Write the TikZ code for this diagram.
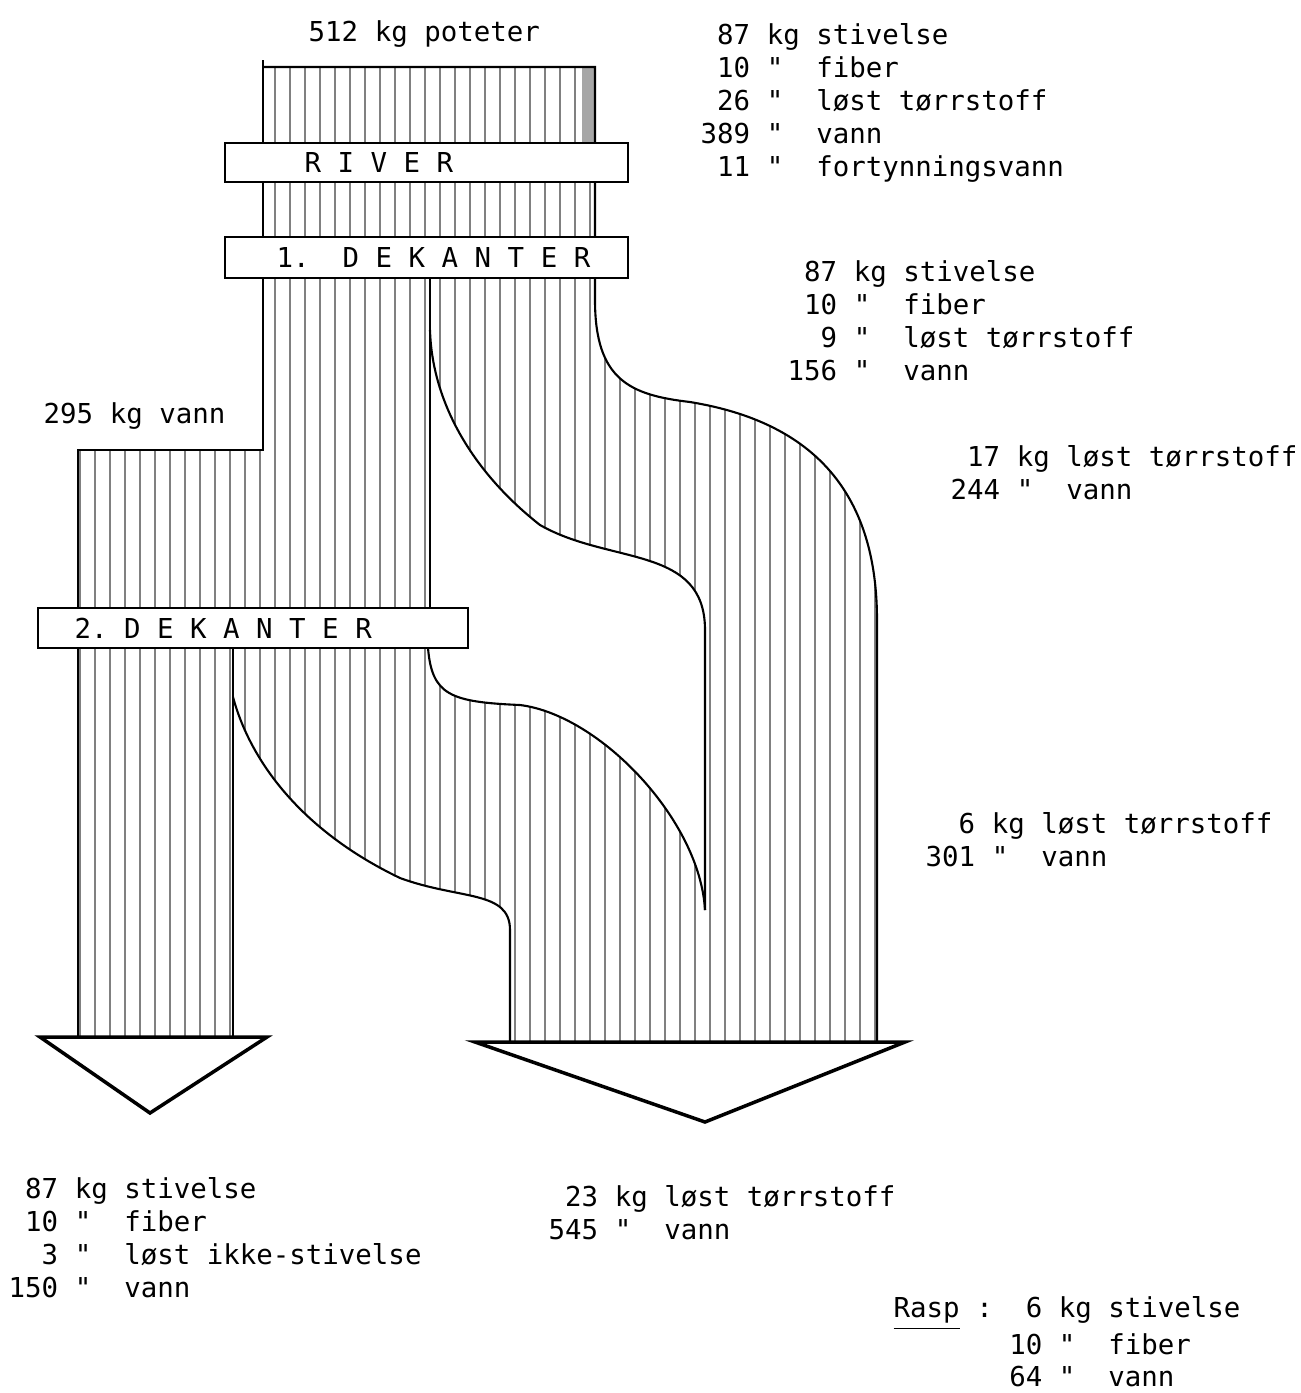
\documentclass[tikz,border=0pt]{standalone}
\usepackage{fontspec}
\setmainfont{DejaVu Sans Mono}[Ligatures=TeXOff]
\usetikzlibrary{positioning}

\newcommand{\hatchfill}{\foreach \x in {50,65,...,905} \draw[hatch] (\x,40) -- (\x,1060);}

\begin{document}
\begin{tikzpicture}[
  x=0.01cm, y=-0.01cm,
  box/.style={draw, fill=white, line width=0.6pt, minimum height=0.4cm, inner sep=0pt},
  boxtxt/.style={inner sep=0pt, font=\fontsize{7.8}{9.4}\selectfont},
  lbl/.style={inner sep=0pt, align=left, anchor=north west, font=\fontsize{7.8}{9.4}\selectfont},
  rim/.style={line width=0.6pt},
  hatch/.style={line width=0.35pt, black!50},
  arrowhd/.style={line width=1pt, line join=miter}
]
\useasboundingbox (0,0) rectangle (1301,1393);

\begin{scope}
  \clip (263,67) rectangle (595,290);
  \hatchfill
\end{scope}
\begin{scope}
  \clip (263,278) -- (430,278) -- (430,648) -- (78,648) -- (78,450) -- (263,450) -- cycle;
  \hatchfill
\end{scope}
\begin{scope}
  \clip (430,278) -- (595,278) -- (595,300) .. controls (595,380) and (630,395) .. (690,402)
    .. controls (800,420) and (877,480) .. (877,620) -- (877,1042) -- (705,1042) -- (705,630)
    .. controls (705,545) and (610,565) .. (540,525) .. controls (470,470) and (432,400) .. (430,330) -- cycle;
  \hatchfill
\end{scope}
\begin{scope}
  \clip (233,648) -- (428,648) .. controls (432,695) and (450,702) .. (520,705)
    .. controls (600,715) and (700,820) .. (705,910) -- (705,1042) -- (510,1042) -- (510,930)
    .. controls (510,890) and (460,900) .. (400,878) .. controls (300,830) and (250,760) .. (233,697) -- cycle;
  \hatchfill
\end{scope}
\begin{scope}
  \clip (78,648) rectangle (233,1037);
  \hatchfill
\end{scope}
\fill[black!35] (582,67) rectangle (595,143);

\draw[rim] (263,60) -- (263,450) -- (78,450) -- (78,1037);
\draw[rim] (263,67) -- (595,67) -- (595,300) .. controls (595,380) and (630,395) .. (690,402)
  .. controls (800,420) and (877,480) .. (877,620) -- (877,1042);
\draw[rim] (430,278) -- (430,608);
\draw[rim] (430,330) .. controls (432,400) and (470,470) .. (540,525)
  .. controls (610,565) and (705,545) .. (705,630) -- (705,910);
\draw[rim] (428,648) .. controls (432,695) and (450,702) .. (520,705)
  .. controls (600,715) and (700,820) .. (705,910);
\draw[rim] (233,648) -- (233,1037);
\draw[rim] (233,697) .. controls (250,760) and (300,830) .. (400,878)
  .. controls (460,900) and (510,890) .. (510,930) -- (510,1042);

\draw[arrowhd] (40,1037) -- (267,1037) -- (150,1113) -- cycle;
\draw[arrowhd] (475,1042) -- (905,1042) -- (705,1122) -- cycle;

\node[box, minimum width=4.03cm, minimum height=0.39cm] (river) at (426.5,162.5) {};
\node[boxtxt, right=0.8cm of river.west] (rivertxt) {R~I~V~E~R};
\node[box, minimum width=4.03cm, minimum height=0.41cm] (dek1) at (426.5,257.5) {};
\node[boxtxt, right=0.52cm of dek1.west] (dek1txt) {1.~~D~E~K~A~N~T~E~R};
\node[box, minimum width=4.3cm, minimum height=0.4cm] (dek2) at (253,628) {};
\node[boxtxt, right=0.37cm of dek2.west] (dek2txt) {2.~D~E~K~A~N~T~E~R};

\node[lbl] (poteter) at (308,20) {512 kg poteter};
\node[lbl] (innhold) at (700,23) {~87 kg stivelse\\~10 "~~fiber\\~26 "~~løst tørrstoff\\389 "~~vann\\~11 "~~fortynningsvann};
\node[lbl] (dek1ut) at (787,260) {~87 kg stivelse\\~10 "~~fiber\\~~9 "~~løst tørrstoff\\156 "~~vann};
\node[lbl] (vann) at (43,402) {295 kg vann};
\node[lbl] (dek1av) at (950,445) {~17 kg løst tørrstoff\\244 "~~vann};
\node[lbl] (dek2av) at (925,812) {~~6 kg løst tørrstoff\\301 "~~vann};
\node[lbl] (produkt) at (8,1177) {~87 kg stivelse\\~10 "~~fiber\\~~3 "~~løst ikke-stivelse\\150 "~~vann};
\node[lbl] (avlop) at (548,1185) {~23 kg løst tørrstoff\\545 "~~vann};
\node[lbl, font=\fontsize{7.8}{9.0}\selectfont] (rasp) at (893,1296) {\underline{Rasp} :~~6 kg stivelse\\~~~~~~~10 "~~fiber\\~~~~~~~64 "~~vann};
\end{tikzpicture}
\end{document}
